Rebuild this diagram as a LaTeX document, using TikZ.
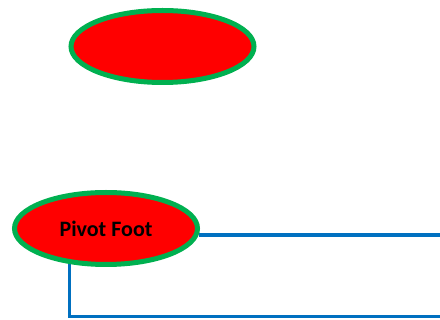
\documentclass[tikz,border=0pt]{standalone}
\usepackage{fontspec}
\setmainfont{Carlito}
\usetikzlibrary{shapes.geometric,backgrounds}
\definecolor{fillred}{HTML}{FF0000}
\definecolor{rimgreen}{HTML}{00B050}
\definecolor{linkblue}{HTML}{0070C0}
\tikzset{
  oval/.style={ellipse, draw=rimgreen, fill=fillred, line width=5pt,
    minimum width=183pt, minimum height=72pt, inner sep=0pt,
    font=\fontsize{22}{25}\selectfont\bfseries},
  link/.style={draw=linkblue, line width=3.5pt}
}
\begin{document}
\begin{tikzpicture}[x=1pt,y=-1pt]
\useasboundingbox (0,0) rectangle (440,320);
\node[oval] (top) at (162.5,46.5) {};
\node[oval] (pf) at (106,228.5) {Pivot Foot};
\coordinate (e1) at (440,235.5);
\coordinate (e2) at (440,316.5);
\begin{scope}[on background layer]
\fill[white] (0,0) rectangle (440,320);
\draw[link] (pf.-4.3) -- (pf.-4.3 -| e1);
\draw[link] (pf.-136) |- (e2);
\end{scope}
\end{tikzpicture}
\end{document}
